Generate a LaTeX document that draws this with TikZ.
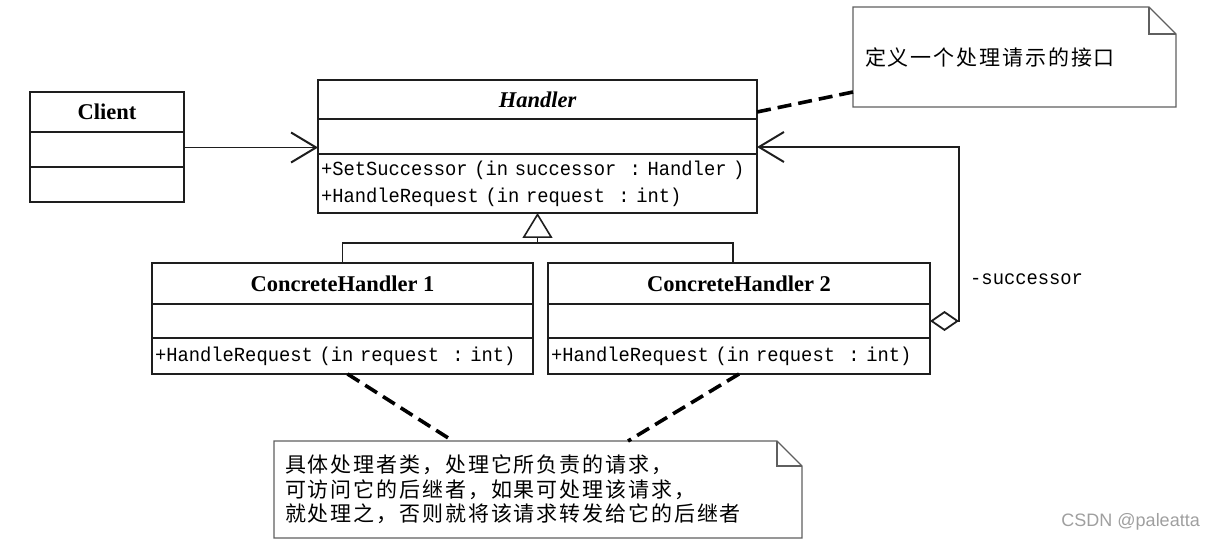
\documentclass[tikz,border=0pt]{standalone}
\usepackage{fontspec}
\setmainfont{Liberation Serif}
\newfontfamily\opsfont[FakeStretch=0.94]{Liberation Mono}
\newfontfamily\cjkfont[LetterSpace=9]{Noto Sans CJK SC}
\newfontfamily\markfont{Liberation Sans}
\usepackage{tikz}
\usetikzlibrary{arrows.meta,positioning}
\definecolor{umlline}{RGB}{30,30,30}
\definecolor{notegray}{RGB}{95,95,95}

\begin{document}
\begin{tikzpicture}[x=1pt,y=-1pt,
    classbox/.style={draw=umlline,line width=1.8pt,outer sep=0pt,inner sep=0pt},
    classname/.style={classbox,font=\fontsize{22.5}{27}\selectfont\bfseries},
    abstractname/.style={classbox,font=\fontsize{22.5}{27}\selectfont\bfseries\itshape},
    oppart/.style={classbox,font=\opsfont\fontsize{20}{27}\selectfont,align=left,inner xsep=3pt},
    notebox/.style={inner xsep=12pt,inner ysep=0pt,outer sep=0pt,align=left,font=\cjkfont\fontsize{21}{24.5}\selectfont},
    noteline/.style={draw=notegray,line width=1.3pt,line join=miter},
    noteconn/.style={line width=3.6pt,dash pattern=on 14pt off 7pt},
    assoc/.style={draw=umlline,line width=1.2pt,-{Straight Barb[length=25pt,width=30pt,line width=2pt]}},
    aggr/.style={draw=umlline,line width=1.2pt,{Diamond[open,length=29pt,width=20pt,line width=1.8pt]}-{Straight Barb[length=25pt,width=30pt,line width=2pt]}},
    genline/.style={draw=umlline,line width=1.2pt},
    inherit/.style={genline,-{Triangle[open,length=25pt,width=30pt,line width=1.6pt]}}]
    \useasboundingbox (0,0) rectangle (1214,545);

    % Client
    \node[classname,minimum width=154pt,minimum height=40pt,anchor=north west] (client) at (30,92) {Client};
    \node[classbox,minimum width=154pt,minimum height=35pt,below=0pt of client] (client-attr) {};
    \node[classbox,minimum width=154pt,minimum height=35pt,below=0pt of client-attr] (client-op) {};

    % Handler
    \node[abstractname,minimum width=439pt,minimum height=39pt,anchor=north west] (handler) at (318,80) {Handler};
    \node[classbox,minimum width=439pt,minimum height=35pt,below=0pt of handler] (handler-attr) {};
    \node[oppart,text width=433pt,minimum height=59pt,below=0pt of handler-attr] (handler-op)
        {+SetSuccessor~(in~successor~~:~Handler~)\\+HandleRequest~(in~request~~:~int)};

    % Concrete handlers
    \node[classname,minimum width=381pt,minimum height=41pt,anchor=north west] (ch1) at (152,263) {ConcreteHandler 1};
    \node[classbox,minimum width=381pt,minimum height=34pt,below=0pt of ch1] (ch1-attr) {};
    \node[oppart,text width=375pt,minimum height=36pt,below=0pt of ch1-attr] (ch1-op) {+HandleRequest~(in~request~~:~int)};

    \node[classname,minimum width=382pt,minimum height=41pt,anchor=north west] (ch2) at (548,263) {ConcreteHandler 2};
    \node[classbox,minimum width=382pt,minimum height=34pt,below=0pt of ch2] (ch2-attr) {};
    \node[oppart,text width=376pt,minimum height=36pt,below=0pt of ch2-attr] (ch2-op) {+HandleRequest~(in~request~~:~int)};

    % Notes
    \node[notebox,text width=299pt,minimum height=100pt,anchor=north west] (note1) at (853,7) {定义一个处理请示的接口};
    \draw[noteline] (note1.north west) -- ([xshift=-27pt]note1.north east) -- ([yshift=-27pt]note1.north east)
        -- (note1.south east) -- (note1.south west) -- cycle;
    \draw[noteline] ([xshift=-27pt]note1.north east) |- ([yshift=-27pt]note1.north east);

    \node[notebox,inner xsep=11pt,text width=506pt,minimum height=97pt,anchor=north west] (note2) at (274,441)
        {具体处理者类，处理它所负责的请求，\\可访问它的后继者，如果可处理该请求，\\就处理之，否则就将该请求转发给它的后继者};
    \draw[noteline] (note2.north west) -- ([xshift=-25pt]note2.north east) -- ([yshift=-25pt]note2.north east)
        -- (note2.south east) -- (note2.south west) -- cycle;
    \draw[noteline] ([xshift=-25pt]note2.north east) |- ([yshift=-25pt]note2.north east);

    % Note links
    \draw[noteconn] ([yshift=15pt]note1.south west) -- ([yshift=7pt]handler.south east);
    \draw[noteconn] ([xshift=5pt]ch1-op.south) -- ([xshift=-85pt]note2.north);
    \draw[noteconn] (ch2-op.south) -- ([xshift=90pt]note2.north);

    % Association and aggregation
    \coordinate (clientout) at ([yshift=2pt]client-attr.east);
    \draw[assoc] (clientout) -- (clientout -| handler-attr.west);
    \coordinate (succturn) at (959,147);
    \draw[aggr] (ch2-attr.east) -| (succturn) -- (succturn -| handler-attr.east);
    \node[font=\opsfont\fontsize{20}{24}\selectfont,anchor=west,inner sep=0pt] (succlabel) at (970,279) {-successor};

    % Generalization
    \coordinate (genjoin) at ([yshift=-30pt]handler-op.south);
    \draw[genline] (ch1.north) |- (genjoin) -| ([xshift=-6pt]ch2.north);
    \draw[inherit] (genjoin) -- (handler-op.south);

    \node[font=\markfont\fontsize{18}{20}\selectfont,text=gray!75,anchor=east,inner sep=0pt] (mark) at (1200,522) {CSDN @paleatta};
\end{tikzpicture}
\end{document}
